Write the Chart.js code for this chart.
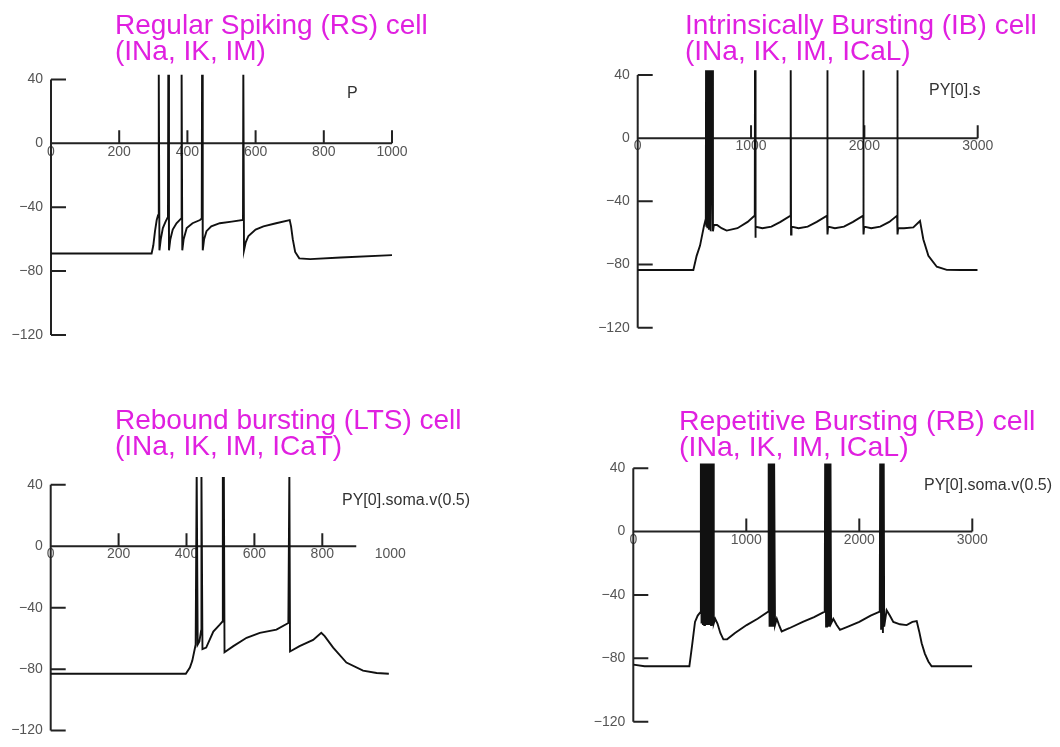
<!DOCTYPE html>
<html>
<head>
<meta charset="utf-8">
<script src="https://cdn.jsdelivr.net/npm/chart.js@4.4.0/dist/chart.umd.min.js"></script>
<style>
  html, body { margin: 0; padding: 0; background: #fff; }
  #page { position: relative; width: 1060px; height: 747px; overflow: hidden; }
  canvas { position: absolute; left: 0; top: 0; }
  .title { position: absolute; color: #e020e0; font: 28px/26px 'Liberation Sans', Arial, sans-serif; white-space: nowrap; }
  .trace-label { position: absolute; color: #333; font: 16px/16px 'Liberation Sans', Arial, sans-serif; white-space: nowrap; }
</style>
</head>
<body>
<div id="page">
  <canvas id="rs" width="1060" height="747"></canvas>
  <canvas id="ib" width="1060" height="747"></canvas>
  <canvas id="lts" width="1060" height="747"></canvas>
  <canvas id="rb" width="1060" height="747"></canvas>

  <div class="title" style="left:115px;top:12px">Regular Spiking (RS) cell<br>(INa, IK, IM)</div>
  <div class="title" style="left:685px;top:12px">Intrinsically Bursting (IB) cell<br>(INa, IK, IM, ICaL)</div>
  <div class="title" style="left:115px;top:407px">Rebound bursting (LTS) cell<br>(INa, IK, IM, ICaT)</div>
  <div class="title" style="left:679px;top:407px;font-size:28.5px">Repetitive Bursting (RB) cell<br>(INa, IK, IM, ICaL)</div>

  <div class="trace-label" style="left:347px;top:85px">P</div>
  <div class="trace-label" style="left:929px;top:82px">PY[0].s</div>
  <div class="trace-label" style="left:342px;top:492px">PY[0].soma.v(0.5)</div>
  <div class="trace-label" style="left:924px;top:477px">PY[0].soma.v(0.5)</div>
</div>

<script>
// membrane potential traces, [time ms, voltage mV]
const RS_TRACE = [
  [0,-69],[150,-69],[295,-69],[300,-64],[305,-55],[310,-48],[314,-45],[316,50],[318,-67],[322,-60],
  [328,-53],[336,-49],[343,-46],[344,50],[346,-67],[350,-60],[357,-54],[368,-50],[382,-47],[383,50],
  [385,-67],[389,-60],[398,-53],[415,-50],[437,-48],[442,-47],[443,50],[445,-67],[449,-60],[456,-55],
  [470,-52],[495,-50],[530,-49],[563,-48],[564,50],[566,-67],[571,-62],[579,-58],[600,-54],[623,-52],
  [660,-50],[700,-48],[704,-52],[709,-60],[716,-68],[728,-72],[760,-72.5],[850,-71.5],[1000,-70]
];

const IB_TRACE = [
  [0,-83.5],[300,-83.5],[491,-83.5],[520,-74.5],[550,-68],[585,-55.5],[601,-51],
  [603,50],[606,-56],[612,50],[615,-57],[624,50],[628,-58],[640,50],[644,-59],[660,50],[664,-59],
  [672,-55],[700,-55],[740,-57],[785,-58.5],[880,-57],[970,-53],[1033,-49],[1035,50],[1038,-63],[1042,-56],
  [1100,-57],[1180,-56],[1260,-53],[1348,-49],[1350,50],[1353,-61],[1357,-56],[1420,-57],[1500,-56],
  [1580,-53],[1671,-49],[1673,50],[1676,-61],[1680,-56],[1740,-57],[1820,-56],[1900,-53],[1989,-49],
  [1991,50],[1994,-61],[1998,-56],[2060,-57],[2140,-56],[2220,-53],[2289,-49],[2291,50],[2294,-61],
  [2298,-57],[2350,-57],[2432,-56.5],[2491,-52.4],[2520,-64],[2565,-74.5],[2639,-81.4],[2727,-83.4],
  [2850,-83.5],[3000,-83.5]
];

const LTS_TRACE = [
  [0,-83],[200,-83],[398,-83],[410,-79],[417,-74.6],[427,-64],[430,50],[433,-64],[438,-62],[443,-55],
  [444,50],[447,-67],[458,-66],[479,-55.5],[498,-51],[506,-49],[507,50],[509,-40],[510,50],[512,-69],
  [538,-65],[577,-59.6],[616,-56.4],[665,-54.3],[700,-50],[703,50],[705,-68.5],[733,-65],[773,-61],
  [797,-56.4],[807,-58.5],[832,-66],[871,-75.7],[920,-81],[960,-82.5],[996,-83]
];

const RB_TRACE = [
  [0,-84],[100,-85],[496,-85],[520,-72],[546,-57],[570,-53],[592,-51],
  [598,50],[604,-58],[610,50],[616,-59],[622,50],[628,-59],[634,50],[640,-59],[646,50],[652,-59],
  [658,50],[664,-59],[670,50],[676,-59],[682,50],[688,-59],[694,50],[700,-59],[706,50],[712,-58],
  [725,-55],[745,-58],[770,-64],[797,-68],[830,-68],[900,-64],[1003,-59],[1100,-55],[1193,-50.5],
  [1198,50],[1206,-60],[1214,50],[1222,-60],[1230,50],[1238,-60],[1246,50],[1254,-59],
  [1270,-55],[1290,-59],[1313,-63],[1380,-61],[1500,-57],[1600,-54],[1694,-50.5],
  [1698,50],[1706,-60],[1714,50],[1722,-60],[1730,50],[1738,-60],[1745,50],[1750,-58],
  [1770,-55],[1800,-59],[1829,-62],[1900,-60],[2000,-57],[2100,-53],[2181,-50.5],
  [2185,50],[2193,-62],[2201,50],[2209,-64],[2216,50],[2220,-60],
  [2242,-49.6],[2270,-53],[2301,-57],[2360,-58.5],[2419,-59],[2470,-57],[2508,-56.5],[2530,-63],
  [2552,-70.5],[2580,-77],[2611,-82],[2640,-85],[2750,-85],[3000,-85]
];

const X_TICKS_1000 = [0, 200, 400, 600, 800, 1000];
const X_TICKS_3000 = [0, 1000, 2000, 3000];
const Y_TICKS = [-120, -80, -40, 0, 40];

// y labels live in a fixed-width box left of the plot; the plot's left edge is t = 0
const Y_BOX = 44;

// where each plot's frame sits on the page
const PANELS = [
  { id: 'rs',  trace: RS_TRACE,  xTicks: X_TICKS_1000, xMax: 1000, xEnd: 1000, yMax: 43,
    pad: { left: 51 - Y_BOX, right: 668, top: 74.7, bottom: 412 } },
  { id: 'ib',  trace: IB_TRACE,  xTicks: X_TICKS_3000, xMax: 3000, xEnd: 3000, yMax: 43,
    pad: { left: 637.7 - Y_BOX, right: 82.3, top: 70.3, bottom: 419.3 } },
  { id: 'lts', trace: LTS_TRACE, xTicks: X_TICKS_1000, xMax: 1000, xEnd: 900, yMax: 45,
    pad: { left: 50.7 - Y_BOX, right: 669.8, top: 477.1, bottom: 10.3 } },
  { id: 'rb',  trace: RB_TRACE,  xTicks: X_TICKS_3000, xMax: 3000, xEnd: 3000, yMax: 43,
    pad: { left: 633.3 - Y_BOX, right: 87.7, top: 463.5, bottom: 25.3 } }
];

const FONT = "'Liberation Sans', Arial, sans-serif";

// axis lines crossing at the origin, ticks pointing up / right like the old NEURON plots
const crossAxes = {
  id: 'crossAxes',
  beforeDatasetsDraw(chart, args, opts) {
    const { ctx, scales: { x, y } } = chart;
    const x0 = x.getPixelForValue(0);
    const y0 = y.getPixelForValue(0);
    ctx.save();
    ctx.strokeStyle = '#222';
    ctx.lineWidth = 2;
    ctx.beginPath();
    ctx.moveTo(x0, y.getPixelForValue(Y_TICKS[0]));
    ctx.lineTo(x0, y.getPixelForValue(Y_TICKS[Y_TICKS.length - 1]));
    ctx.moveTo(x0 - 1, y0);
    ctx.lineTo(x.getPixelForValue(opts.xEnd), y0);
    x.ticks.forEach(t => {
      if (t.value > 0 && t.value <= opts.xEnd) {
        const px = x.getPixelForValue(t.value);
        ctx.moveTo(px, y0);
        ctx.lineTo(px, y0 - 13);
      }
    });
    y.ticks.forEach(t => {
      if (t.value !== 0) {
        const py = y.getPixelForValue(t.value);
        ctx.moveTo(x0, py);
        ctx.lineTo(x0 + 15, py);
      }
    });
    ctx.stroke();
    ctx.restore();
  }
};

PANELS.forEach(p => {
  new Chart(document.getElementById(p.id), {
    type: 'line',
    data: {
      datasets: [{
        data: p.trace.map(([t, v]) => ({ x: t, y: v })),
        borderColor: '#111',
        borderWidth: 1.9,
        pointRadius: 0,
        tension: 0,
        fill: false
      }]
    },
    options: {
      responsive: false,
      animation: false,
      events: [],
      layout: { autoPadding: false, padding: p.pad },
      plugins: {
        legend: { display: false },
        tooltip: { enabled: false },
        crossAxes: { xEnd: p.xEnd }
      },
      scales: {
        x: {
          type: 'linear',
          position: { y: 0 },
          min: 0,
          max: p.xMax,
          afterBuildTicks: s => { s.ticks = p.xTicks.map(v => ({ value: v })); },
          grid: { display: false, drawTicks: false },
          border: { display: false },
          ticks: {
            autoSkip: false, maxRotation: 0, padding: 0, color: '#555', font: { family: FONT, size: 14 },
            callback: v => String(v)
          }
        },
        y: {
          type: 'linear',
          position: 'left',
          min: -120,
          max: p.yMax,
          afterBuildTicks: s => { s.ticks = Y_TICKS.map(v => ({ value: v })); },
          afterFit: s => { s.width = Y_BOX; },
          grid: { display: false, drawTicks: false },
          border: { display: false },
          ticks: {
            autoSkip: false, padding: 8, color: '#555', font: { family: FONT, size: 14 },
            callback: v => String(v).replace('-', '\u2212')
          }
        }
      }
    },
    plugins: [crossAxes]
  });
});
</script>
</body>
</html>
